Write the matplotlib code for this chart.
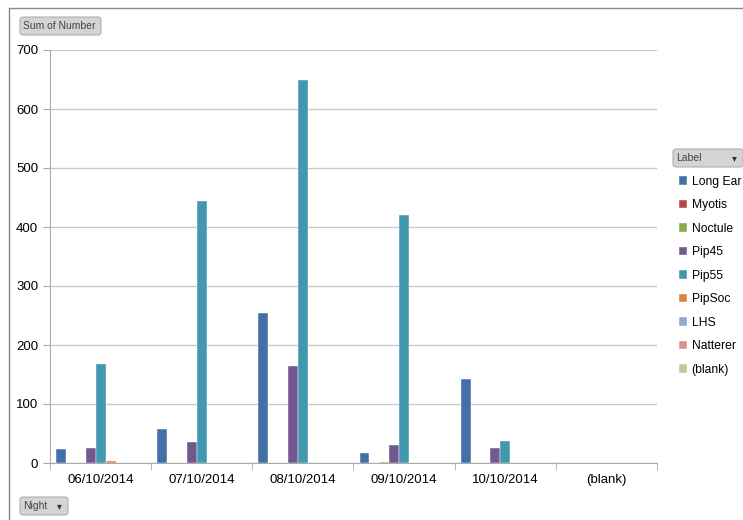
import matplotlib.pyplot as plt
import numpy as np
from matplotlib.patches import FancyBboxPatch
from matplotlib.lines import Line2D

plt.rcParams['font.family'] = ['Liberation Sans', 'DejaVu Sans']

nights = ['06/10/2014', '07/10/2014', '08/10/2014', '09/10/2014', '10/10/2014', '(blank)']
labels = ['Long Ear', 'Myotis', 'Noctule', 'Pip45', 'Pip55', 'PipSoc', 'LHS', 'Natterer', '(blank)']
colors = ['#4470A8', '#B8474A', '#8CAA4E', '#71588F', '#4198AF', '#DB843D', '#93A9CF', '#D19392', '#B9CD96']

long_ear = [24, 58, 254, 17, 142, 0]
myotis = [0, 0, 0, 0, 0, 0]
noctule = [0, 0, 0, 2, 0, 0]
pip45 = [25, 36, 164, 30, 25, 0]
pip55 = [168, 444, 649, 420, 37, 0]
pipsoc = [3, 0, 0, 0, 0, 0]
lhs = [0, 0, 0, 0, 0, 0]
natterer = [0, 0, 0, 0, 0, 0]
blank = [0, 0, 0, 0, 0, 0]
series = [long_ear, myotis, noctule, pip45, pip55, pipsoc, lhs, natterer, blank]

fig = plt.figure(figsize=(7.43, 5.20), dpi=100)
ax = fig.add_axes([50 / 743, 57 / 520, 607 / 743, 413 / 520])

x = np.arange(len(nights))
w = 0.098
for i, (vals, lab, c) in enumerate(zip(series, labels, colors)):
    ax.bar(x - 0.44 + w * (i + 0.5), vals, width=w, color=c, label=lab, zorder=3,
           edgecolor='white', linewidth=0.3)

ax.set_xlim(-0.5, len(nights) - 0.5)
ax.set_ylim(0, 700)
ax.set_yticks(range(0, 701, 100))
ax.set_xticks(x)
ax.set_xticklabels(nights, fontsize=9.5)
ax.set_xticks(np.arange(-0.5, len(nights), 1), minor=True)
ax.tick_params(axis='x', which='major', length=0, pad=8)
ax.tick_params(axis='x', which='minor', length=5, color='#aaaaaa')
ax.tick_params(axis='y', length=5, color='#aaaaaa', labelsize=9.5)
ax.grid(axis='y', color='#c8c8c8', linewidth=1, zorder=0)
for s in ['top', 'right']:
    ax.spines[s].set_visible(False)
ax.spines['left'].set_color('#aaaaaa')
ax.spines['bottom'].set_color('#aaaaaa')

leg = fig.legend(loc='upper left', bbox_to_anchor=(674 / 743, 1 - 171 / 520), frameon=False,
                 fontsize=8.7, handlelength=0.7, handleheight=0.7, handletextpad=0.35,
                 labelspacing=0.95, borderaxespad=0)

# chart border (only top and left visible)
fig.add_artist(Line2D([9 / 743, 9 / 743, 1], [0, 1 - 8 / 520, 1 - 8 / 520],
                      transform=fig.transFigure, color='#888888', linewidth=1))


def button(x0, y0, wd, ht, text, arrow=False):
    fig.add_artist(FancyBboxPatch((x0 / 743, 1 - (y0 + ht) / 520), wd / 743, ht / 520,
                                  boxstyle='round,pad=0,rounding_size=0.005',
                                  transform=fig.transFigure, facecolor='#d4d4d4',
                                  edgecolor='#b0b0b0', linewidth=0.8))
    fig.text((x0 + 3) / 743, 1 - (y0 + ht / 2) / 520, text, fontsize=7.5, color='#444444',
             va='center', ha='left')
    if arrow:
        fig.text((x0 + wd - 9) / 743, 1 - (y0 + ht / 2) / 520, '▾', fontsize=7, color='#333333',
                 va='center', ha='center', family='DejaVu Sans')


button(20, 17, 81, 18, 'Sum of Number')
button(673, 149, 70, 18, 'Label', arrow=True)
button(20, 497, 48, 18, 'Night', arrow=True)

fig.savefig('out.png', dpi=100)
